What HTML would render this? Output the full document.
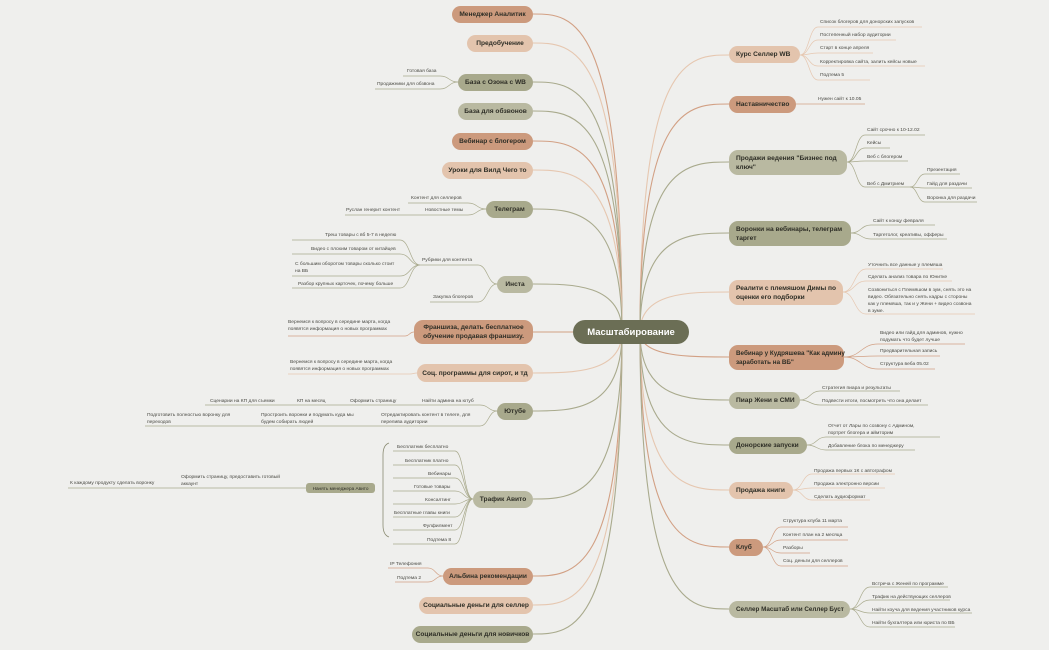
<!DOCTYPE html>
<html><head><meta charset="utf-8">
<style>
body{margin:0;width:1049px;height:650px;background:#efefed;overflow:hidden;position:relative;font-family:"Liberation Sans",sans-serif}
svg{position:absolute;left:0;top:0}
.n{position:absolute;border-radius:9px;font-size:6.6px;font-weight:bold;color:#2e2e26;display:flex;align-items:center;justify-content:center;text-align:center;line-height:9px;box-sizing:border-box;padding:0 2px;white-space:nowrap}
.nl{justify-content:flex-start;text-align:left;padding-left:7px}
.t{background:#cc9a7d}.p{background:#e3c4ad}.o{background:#a8a98c}.lo{background:#b9b9a1}
.s{position:absolute;font-size:4.9px;color:#4a4a44;line-height:7px;white-space:nowrap}
.c{background:#6b6e55;color:#fff;font-size:9.5px;border-radius:12px}
</style></head><body>
<svg id="g" width="1049" height="650"></svg>

<div class="n c" style="left:573px;top:320px;width:116px;height:24px">Масштабирование</div>

<div class="n t" style="left:452px;top:6px;width:81px;height:17px">Менеджер Аналитик</div>
<div class="n p" style="left:467px;top:35px;width:66px;height:17px">Предобучение</div>
<div class="n o" style="left:458px;top:74px;width:75px;height:17px">База с Озона с WB</div>
<div class="n lo" style="left:458px;top:103px;width:75px;height:17px">База для обзвонов</div>
<div class="n t" style="left:452px;top:133px;width:81px;height:17px">Вебинар с блогером</div>
<div class="n p" style="left:442px;top:162px;width:91px;height:17px">Уроки для Вилд Чего то</div>
<div class="n o" style="left:486px;top:201px;width:47px;height:17px">Телеграм</div>
<div class="n lo" style="left:497px;top:276px;width:36px;height:17px">Инста</div>
<div class="n t" style="left:414px;top:320px;width:119px;height:24px">Франшиза, делать бесплатное<br>обучение продавая франшизу.</div>
<div class="n p" style="left:417px;top:364px;width:116px;height:18px">Соц. программы для сирот, и тд</div>
<div class="n o" style="left:497px;top:403px;width:36px;height:17px">Ютубе</div>
<div class="n lo" style="left:473px;top:491px;width:60px;height:17px">Трафик Авито</div>
<div class="n t" style="left:443px;top:568px;width:90px;height:17px">Альбина рекомендации</div>
<div class="n p" style="left:419px;top:597px;width:114px;height:17px">Социальные деньги для селлер</div>
<div class="n o" style="left:412px;top:626px;width:121px;height:17px">Социальные деньги для новичков</div>
<div class="n o" style="left:306px;top:483px;width:69px;height:10px;font-size:4.7px;font-weight:normal;border-radius:3px">Нанять менеджера Авито</div>

<div class="n p nl" style="left:729px;top:46px;width:71px;height:17px">Курс Селлер WB</div>
<div class="n t nl" style="left:729px;top:96px;width:67px;height:17px">Наставничество</div>
<div class="n lo nl" style="left:729px;top:150px;width:118px;height:25px">Продажи ведения "Бизнес под<br>ключ"</div>
<div class="n o nl" style="left:729px;top:221px;width:122px;height:25px">Воронки на вебинары, телеграм<br>таргет</div>
<div class="n p nl" style="left:729px;top:280px;width:114px;height:25px">Реалити с племяшом Димы по<br>оценки его подборки</div>
<div class="n t nl" style="left:729px;top:345px;width:115px;height:25px;font-size:6.3px">Вебинар у Кудряшева "Как админу<br>заработать на ВБ"</div>
<div class="n lo nl" style="left:729px;top:392px;width:71px;height:17px">Пиар Жени в СМИ</div>
<div class="n o nl" style="left:729px;top:437px;width:78px;height:17px">Донорские запуски</div>
<div class="n p nl" style="left:729px;top:482px;width:64px;height:17px">Продажа книги</div>
<div class="n t nl" style="left:729px;top:539px;width:34px;height:17px">Клуб</div>
<div class="n lo nl" style="left:729px;top:601px;width:121px;height:17px;font-size:6.3px">Селлер Масштаб или Селлер Буст</div>

<div class="s" style="left:407px;top:68px">Готовая база</div>
<div class="s" style="left:377px;top:81px">Продажники для обзвона</div>
<div class="s" style="left:411px;top:195px">Контент для селлеров</div>
<div class="s" style="left:425px;top:207px">Новостные темы</div>
<div class="s" style="left:346px;top:207px">Руслан генерит контент</div>
<div class="s" style="left:422px;top:257px">Рубрики для контента</div>
<div class="s" style="left:325px;top:232px">Треш товары с вб 5-7 в неделю</div>
<div class="s" style="left:311px;top:246px">Видео с плохим товаром от китайцев</div>
<div class="s" style="left:295px;top:261px">С большим оборотом товары сколько стоит<br>на ВБ</div>
<div class="s" style="left:298px;top:281px">Разбор крупных карточек, почему больше</div>
<div class="s" style="left:433px;top:294px">Закупка блогеров</div>
<div class="s" style="left:288px;top:319px">Вернемся к вопросу в середине марта, когда<br>появятся информация о новых программах</div>
<div class="s" style="left:290px;top:359px">Вернемся к вопросу в середине марта, когда<br>появятся информация о новых программах</div>
<div class="s" style="left:210px;top:398px">Сценарии на КП для съемки</div>
<div class="s" style="left:297px;top:398px">КП на месяц</div>
<div class="s" style="left:350px;top:398px">Оформить страницу</div>
<div class="s" style="left:422px;top:398px">Найти админа на ютуб</div>
<div class="s" style="left:147px;top:412px">Подготовить полностью воронку для<br>переходов</div>
<div class="s" style="left:261px;top:412px">Простроить воронки и подумать куда мы<br>будем собирать людей</div>
<div class="s" style="left:381px;top:412px">Отредактировать контент в телеге, для<br>перелива аудитории</div>
<div class="s" style="left:397px;top:444px">Бесплатник бесплатно</div>
<div class="s" style="left:405px;top:458px">Бесплатник платно</div>
<div class="s" style="left:428px;top:471px">Вебинары</div>
<div class="s" style="left:414px;top:484px">Готовые товары</div>
<div class="s" style="left:425px;top:497px">Консалтинг</div>
<div class="s" style="left:394px;top:510px">Бесплатные главы книги</div>
<div class="s" style="left:423px;top:523px">Фулфилмент</div>
<div class="s" style="left:427px;top:537px">Подтема 8</div>
<div class="s" style="left:181px;top:474px">Оформить страницу, предоставить готовый<br>аккаунт</div>
<div class="s" style="left:70px;top:480px">К каждому продукту сделать воронку</div>
<div class="s" style="left:390px;top:561px">IP Телефония</div>
<div class="s" style="left:397px;top:575px">Подтема 2</div>

<div class="s" style="left:820px;top:19px">Список блогеров для донорских запусков</div>
<div class="s" style="left:820px;top:32px">Постепенный набор аудитории</div>
<div class="s" style="left:820px;top:45px">Старт в конце апреля</div>
<div class="s" style="left:820px;top:59px">Корректировка сайта, залить кейсы новые</div>
<div class="s" style="left:820px;top:72px">Подтема 5</div>
<div class="s" style="left:818px;top:96px">Нужен сайт к 10.05</div>
<div class="s" style="left:867px;top:127px">Сайт срочно к 10-12.02</div>
<div class="s" style="left:867px;top:140px">Кейсы</div>
<div class="s" style="left:867px;top:154px">Веб с блогером</div>
<div class="s" style="left:867px;top:181px">Веб с Дмитрием</div>
<div class="s" style="left:927px;top:167px">Презентация</div>
<div class="s" style="left:927px;top:181px">Гайд для раздачи</div>
<div class="s" style="left:927px;top:195px">Воронка для раздачи</div>
<div class="s" style="left:873px;top:218px">Сайт к концу февраля</div>
<div class="s" style="left:873px;top:232px">Таргетолог, креативы, офферы</div>
<div class="s" style="left:868px;top:262px">Уточнить все данные у племяша</div>
<div class="s" style="left:868px;top:274px">Сделать анализ товара по Юнитке</div>
<div class="s" style="left:868px;top:287px">Созвониться с Племяшом в зум, снять это на<br>видео. Обязательно снять кадры с стороны<br>как у племяша, так и у Жени + видео созвона<br>в зуме.</div>
<div class="s" style="left:880px;top:330px">Видео или гайд для админов, нужно<br>подумать что будет лучше</div>
<div class="s" style="left:880px;top:348px">Предварительная запись</div>
<div class="s" style="left:880px;top:361px">Структура веба 05.02</div>
<div class="s" style="left:822px;top:385px">Стратегия пиара и результаты</div>
<div class="s" style="left:822px;top:398px">Подвести итоги, посмотреть что она делает</div>
<div class="s" style="left:828px;top:423px">Отчет от Лары по созвону с Админом,<br>портрет блогера и аймторим</div>
<div class="s" style="left:828px;top:443px">Добавление блока по менеджеру</div>
<div class="s" style="left:814px;top:468px">Продажа первых 1К с автографом</div>
<div class="s" style="left:814px;top:481px">Продажа электронно версии</div>
<div class="s" style="left:814px;top:494px">Сделать аудиоформат</div>
<div class="s" style="left:783px;top:518px">Структура клуба 11 марта</div>
<div class="s" style="left:783px;top:532px">Контент план на 2 месяца</div>
<div class="s" style="left:783px;top:545px">Разборы</div>
<div class="s" style="left:783px;top:558px">Соц. деньги для селлеров</div>
<div class="s" style="left:872px;top:581px">Встреча с Женей по программе</div>
<div class="s" style="left:872px;top:594px">Трафик на действующих селлеров</div>
<div class="s" style="left:872px;top:607px">Найти коуча для ведения участников курса</div>
<div class="s" style="left:872px;top:620px">Найти бухгалтера или юриста по ВБ</div>

<script>
var T='#d2a084',P='#e6c7b0',O='#a9aa8d';
var g=document.getElementById('g'),h='';
function main(x,y,c,side){var sx=side<0?622:640;h+='<path d="M'+sx+' 332 C'+sx+' '+y+','+(x+side*-40)+' '+y+','+x+' '+y+'" stroke="'+c+'" stroke-width="1.1" fill="none"/>';}
function ch(px,py,ex,ey,fx,c){var m=(px+ex)/2;h+='<path d="M'+px+' '+py+' C'+m+' '+py+','+m+' '+ey+','+ex+' '+ey+' L'+fx+' '+ey+'" stroke="'+c+'" stroke-width="0.7" fill="none"/>';}
[[14,T],[43,P],[82,O],[111,O],[141,T],[170,P],[209,O],[284,O],[332,T],[373,P],[411,O],[499,O],[576,T],[605,P],[634,O]].forEach(function(a){main(533,a[0],a[1],-1);});
[[55,P],[104,T],[162,O],[233,O],[292,P],[357,T],[400,O],[445,O],[490,P],[547,T],[609,O]].forEach(function(a){main(729,a[0],a[1],1);});
ch(458,82,440,76,403,O);ch(458,82,440,89,375,O);
ch(486,209,468,203,408,O);ch(486,209,468,215,345,O);
ch(497,284,478,265,420,O);ch(497,284,478,302,430,O);
[240,254,276,288].forEach(function(y){ch(420,265,400,y,292,O);});
ch(414,332,405,336,288,T);ch(417,373,410,374,288,P);
ch(497,411,480,405,205,O);ch(497,411,480,426,145,O);
[451,465,478,491,504,517,530,544].forEach(function(y){ch(473,499,455,y,393,O);});
ch(375,488,385,488,385,488,O);ch(306,488,300,488,68,O);
ch(443,576,428,568,388,T);ch(443,576,428,582,395,T);
[[27,922],[40,896],[53,873],[66,925],[80,870]].forEach(function(a){ch(800,55,818,a[0],a[1],P);});
ch(796,104,816,104,865,T);
[[135,925],[148,890],[161,908],[187,910]].forEach(function(a){ch(847,162,865,a[0],a[1],O);});
[[174,960],[188,972],[202,977]].forEach(function(a){ch(910,187,925,a[0],a[1],O);});
[[225,935],[239,947]].forEach(function(a){ch(851,233,871,a[0],a[1],O);});
[[269,943],[281,952],[314,975]].forEach(function(a){ch(843,292,866,a[0],a[1],P);});
[[344,965],[356,940],[369,935]].forEach(function(a){ch(844,357,878,a[0],a[1],T);});
[[391,900],[405,928]].forEach(function(a){ch(800,400,820,a[0],a[1],O);});
[[437,940],[450,915]].forEach(function(a){ch(807,445,826,a[0],a[1],O);});
[[474,895],[488,885],[500,870]].forEach(function(a){ch(793,490,812,a[0],a[1],P);});
[[527,848],[540,848],[553,810],[566,848]].forEach(function(a){ch(763,547,781,a[0],a[1],T);});
[[587,948],[600,950],[613,972],[627,955]].forEach(function(a){ch(850,609,870,a[0],a[1],O);});
h+='<path d="M389 443 Q383 445 383 455 L383 525 Q383 535 389 537" stroke="#8a8b72" stroke-width="0.8" fill="none"/>';
g.innerHTML=h;
</script>
</body></html>
